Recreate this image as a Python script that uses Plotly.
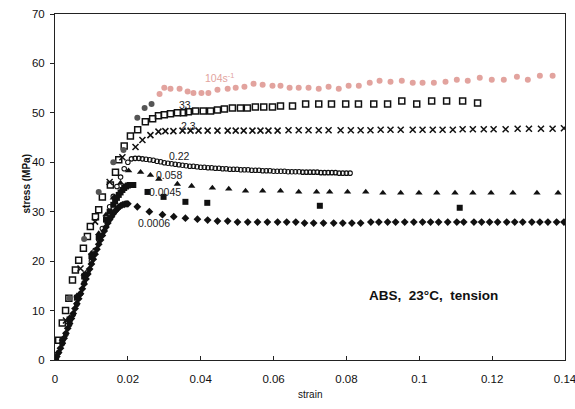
import plotly.graph_objects as go

# ---- strain / stress data, ABS in tension at 23 °C, one series per strain rate ----

# 104 s^-1 (circles)
s104_strain = [0.0040, 0.0080, 0.0120, 0.0160, 0.0188, 0.0226, 0.0246, 0.0265,
               0.0287, 0.0300, 0.0317, 0.0342, 0.0364, 0.0380, 0.0402, 0.0421,
               0.0446, 0.0474, 0.0496, 0.0520, 0.0545, 0.0570, 0.0597, 0.0619,
               0.0644, 0.0669, 0.0696, 0.0724, 0.0751, 0.0779, 0.0806, 0.0834,
               0.0864, 0.0891, 0.0921, 0.0952, 0.0982, 0.1009, 0.1040, 0.1072,
               0.1103, 0.1133, 0.1166, 0.1199, 0.1232, 0.1268, 0.1298, 0.1331, 0.1366]
s104_stress = [12.5, 24.5, 34.0, 40.0, 42.5, 49.0, 51.0, 51.8,
               53.8, 55.1, 54.9, 54.9, 54.3, 54.0, 54.0, 54.0,
               54.7, 54.9, 55.1, 55.3, 55.9, 55.7, 55.5, 55.5,
               55.1, 55.1, 55.1, 54.9, 55.3, 54.9, 55.5, 55.5,
               56.1, 56.5, 56.3, 56.5, 56.1, 56.1, 56.1, 56.3,
               56.7, 56.5, 57.1, 56.7, 56.7, 57.3, 56.7, 57.5, 57.5]
s104_dark_points = 8  # early points print dark

# 33 s^-1 (open squares)
s33_strain = [0.0001, 0.0010, 0.0020, 0.0029, 0.0038, 0.0048, 0.0056, 0.0065,
              0.0078, 0.0089, 0.0097, 0.0111, 0.0120, 0.0130, 0.0152, 0.0166,
              0.0175, 0.0190, 0.0207, 0.0227, 0.0248, 0.0268, 0.0284, 0.0300,
              0.0317, 0.0336, 0.0353, 0.0366, 0.0386, 0.0407, 0.0427, 0.0446,
              0.0465, 0.0487, 0.0509, 0.0528, 0.0550, 0.0573, 0.0597, 0.0619,
              0.0652, 0.0688, 0.0724, 0.0759, 0.0798, 0.0833, 0.0875, 0.0913,
              0.0952, 0.0993, 0.1034, 0.1075, 0.1119, 0.1160]
s33_stress = [0.6, 4.0, 7.5, 10.0, 12.5, 16.2, 18.2, 20.2,
              22.6, 25.0, 27.0, 29.0, 30.4, 33.0, 35.4, 38.0,
              40.5, 43.3, 45.3, 46.6, 48.2, 48.8, 49.4, 49.6,
              49.8, 50.0, 50.0, 50.2, 50.4, 50.4, 50.4, 50.6,
              50.8, 51.0, 51.0, 51.0, 51.2, 51.2, 51.2, 51.4,
              51.4, 51.8, 51.8, 51.8, 51.8, 51.8, 51.8, 51.8,
              52.4, 51.8, 52.4, 52.4, 52.4, 52.0]

# 2.3 s^-1 (crosses)
s2_3_strain = [0.0030, 0.0070, 0.0110, 0.0150, 0.0185, 0.0221, 0.0240, 0.0262,
               0.0284, 0.0303, 0.0325, 0.0350, 0.0372, 0.0394, 0.0419, 0.0446,
               0.0474, 0.0496, 0.0518, 0.0542, 0.0564, 0.0586, 0.0611, 0.0641,
               0.0669, 0.0696, 0.0724, 0.0751, 0.0784, 0.0812, 0.0839, 0.0866,
               0.0894, 0.0921, 0.0949, 0.0982, 0.1009, 0.1037, 0.1064, 0.1092,
               0.1119, 0.1147, 0.1177, 0.1204, 0.1237, 0.1270, 0.1301, 0.1334,
               0.1366, 0.1397]
s2_3_stress = [8.0, 18.5, 28.0, 36.0, 41.0, 43.1, 44.5, 45.5,
               46.2, 46.3, 46.3, 46.4, 46.4, 46.4, 46.4, 46.4,
               46.4, 46.4, 46.4, 46.4, 46.4, 46.4, 46.4, 46.5,
               46.5, 46.5, 46.5, 46.5, 46.5, 46.5, 46.5, 46.5,
               46.6, 46.6, 46.6, 46.6, 46.6, 46.6, 46.6, 46.6,
               46.7, 46.7, 46.7, 46.7, 46.7, 46.8, 46.8, 46.8,
               46.8, 46.9]

# 0.22 s^-1 (small open circles)
s0_22_strain = [0.000, 0.001, 0.002, 0.003, 0.004, 0.005, 0.006, 0.007, 0.008, 0.009,
                0.010, 0.011, 0.012, 0.013, 0.014, 0.015, 0.016, 0.017, 0.018, 0.019,
                0.020, 0.021, 0.022, 0.023, 0.024, 0.025, 0.026, 0.027, 0.028, 0.029,
                0.030, 0.031, 0.032, 0.033, 0.034, 0.035, 0.036, 0.037, 0.038, 0.039,
                0.040, 0.041, 0.042, 0.043, 0.044, 0.045, 0.046, 0.047, 0.048, 0.049,
                0.050, 0.051, 0.052, 0.053, 0.054, 0.055, 0.056, 0.057, 0.058, 0.059,
                0.060, 0.061, 0.062, 0.063, 0.064, 0.065, 0.066, 0.067, 0.068, 0.069,
                0.070, 0.071, 0.072, 0.073, 0.074, 0.075, 0.076, 0.077, 0.078, 0.079,
                0.080, 0.081]
s0_22_stress = [0.0, 1.5, 3.3, 5.2, 7.2, 9.2, 11.3, 13.4, 15.6, 17.8,
                20.0, 22.2, 24.4, 26.6, 28.8, 31.0, 33.1, 35.1, 37.0, 38.7,
                40.0, 40.7, 40.8, 40.8, 40.7, 40.6, 40.5, 40.4, 40.2, 40.1,
                39.9, 39.8, 39.7, 39.6, 39.5, 39.4, 39.3, 39.2, 39.2, 39.1,
                39.0, 39.0, 38.9, 38.9, 38.8, 38.8, 38.7, 38.7, 38.6, 38.6,
                38.6, 38.5, 38.5, 38.5, 38.4, 38.4, 38.4, 38.3, 38.3, 38.3,
                38.2, 38.2, 38.2, 38.2, 38.1, 38.1, 38.1, 38.1, 38.0, 38.0,
                38.0, 38.0, 38.0, 37.9, 37.9, 37.9, 37.9, 37.9, 37.8, 37.8,
                37.8, 37.8]

# 0.058 s^-1 (filled triangles)
s0_058_strain = [0.002, 0.004, 0.006, 0.008, 0.010, 0.012, 0.014, 0.016, 0.018, 0.0202,
                 0.0235, 0.0262, 0.0285, 0.0336, 0.0375, 0.0432, 0.0477, 0.0523, 0.0570,
                 0.0619, 0.0669, 0.0718, 0.0754, 0.0803, 0.0853, 0.0900, 0.0949, 0.0999,
                 0.1048, 0.1098, 0.1147, 0.1197, 0.1257, 0.1323, 0.1381]
s0_058_stress = [4.2, 8.6, 13.0, 17.4, 21.6, 25.6, 29.4, 32.8, 35.8, 38.3,
                 38.0, 37.4, 36.6, 35.6, 35.2, 34.8, 34.6, 34.2, 34.2,
                 34.2, 34.0, 34.0, 34.0, 34.0, 34.0, 33.8, 33.8, 33.8,
                 33.8, 33.8, 33.8, 33.8, 33.8, 33.8, 33.8]

# 0.0045 s^-1 (filled squares)
s0_0045_strain = [0.002, 0.004, 0.006, 0.008, 0.010, 0.012, 0.014, 0.015,
                  0.016, 0.0165, 0.017, 0.0175, 0.018, 0.0185, 0.019, 0.0195,
                  0.020, 0.0205, 0.021, 0.0215,
                  0.0254, 0.0298, 0.0358, 0.0418, 0.0727, 0.1111]
s0_0045_stress = [3.8, 8.2, 12.6, 16.9, 21.0, 24.9, 28.4, 30.0,
                  31.4, 32.1, 32.8, 33.4, 33.9, 34.4, 34.8, 35.1,
                  35.3, 35.4, 35.4, 35.4,
                  34.0, 33.0, 32.0, 31.8, 31.2, 30.8]

# 0.0006 s^-1 (filled diamonds)
s0_0006_strain = [0.0000, 0.0005, 0.0010, 0.0015, 0.0020, 0.0025, 0.0030, 0.0035,
                  0.0040, 0.0045, 0.0050, 0.0055, 0.0060, 0.0065, 0.0070, 0.0075,
                  0.0080, 0.0085, 0.0090, 0.0095, 0.0100, 0.0105, 0.0110, 0.0115,
                  0.0120, 0.0125, 0.0130, 0.0135, 0.0140, 0.0145, 0.0150, 0.0155,
                  0.0160, 0.0165, 0.0170, 0.0175, 0.0180, 0.0185, 0.0190, 0.0195,
                  0.0200, 0.0226, 0.0259, 0.0295, 0.0326, 0.0358, 0.0391, 0.0419,
                  0.0446, 0.0474, 0.0501, 0.0529, 0.0556, 0.0583, 0.0611, 0.0636,
                  0.0661, 0.0685, 0.0710, 0.0737, 0.0765, 0.0790, 0.0815, 0.0839,
                  0.0867, 0.0889, 0.0913, 0.0935, 0.0960, 0.0985, 0.1009, 0.1031,
                  0.1053, 0.1078, 0.1103, 0.1122, 0.1150, 0.1171, 0.1193, 0.1215,
                  0.1240, 0.1262, 0.1284, 0.1309, 0.1331, 0.1353, 0.1377, 0.1397]
s0_0006_stress = [0.0, 0.7, 1.5, 2.4, 3.4, 4.4, 5.4, 6.4,
                  7.4, 8.4, 9.4, 10.4, 11.4, 12.4, 13.4, 14.4,
                  15.4, 16.4, 17.4, 18.4, 19.4, 20.4, 21.4, 22.4,
                  23.4, 24.3, 25.2, 26.1, 26.9, 27.7, 28.4, 29.0,
                  29.6, 30.1, 30.5, 30.9, 31.2, 31.4, 31.5, 31.6,
                  31.6, 31.0, 30.0, 29.4, 29.0, 28.7, 28.5, 28.3,
                  28.1, 28.1, 27.9, 27.9, 27.9, 27.9, 27.9, 27.9,
                  27.9, 27.7, 27.7, 27.7, 27.7, 27.7, 27.7, 27.7,
                  27.9, 27.9, 27.9, 27.9, 27.9, 27.9, 27.9, 27.9,
                  27.9, 27.9, 27.9, 27.9, 27.9, 27.9, 27.9, 27.9,
                  27.9, 27.9, 27.9, 27.9, 27.9, 27.9, 27.9, 27.9]

x_ticks = [0, 0.02, 0.04, 0.06, 0.08, 0.1, 0.12, 0.14]
x_tick_text = ["0", "0.02", "0.04", "0.06", "0.08", "0.1", "0.12", "0.14"]
y_ticks = [0, 10, 20, 30, 40, 50, 60, 70]

# rate labels placed beside their curves: (text, strain, stress)
rate_labels = [("33", 0.0356, 51.6), ("2.3", 0.0367, 47.4), ("0.22", 0.0342, 41.3),
               ("0.058", 0.0312, 37.4), ("0.0045", 0.0303, 34.0), ("0.0006", 0.0271, 27.7)]

PINK = "#e2a39e"
FONT = "Liberation Sans, Arial, sans-serif"

fig = go.Figure()

fig.add_trace(go.Scatter(
    x=s0_0006_strain, y=s0_0006_stress, mode="markers",
    marker=dict(symbol="diamond", size=6, color="#111"), name="0.0006"))
fig.add_trace(go.Scatter(
    x=s0_0045_strain, y=s0_0045_stress, mode="markers",
    marker=dict(symbol="square", size=6, color="#111"), name="0.0045"))
fig.add_trace(go.Scatter(
    x=s0_058_strain, y=s0_058_stress, mode="markers",
    marker=dict(symbol="triangle-up", size=6.5, color="#111"), name="0.058"))
fig.add_trace(go.Scatter(
    x=s0_22_strain, y=s0_22_stress, mode="markers",
    marker=dict(symbol="circle-open", size=4.5, color="#111", line=dict(width=1.1)),
    name="0.22"))
fig.add_trace(go.Scatter(
    x=s2_3_strain, y=s2_3_stress, mode="markers",
    marker=dict(symbol="x-thin", size=6, color="#111", line=dict(width=1.5, color="#111")),
    name="2.3"))
fig.add_trace(go.Scatter(
    x=s33_strain, y=s33_stress, mode="markers",
    marker=dict(symbol="square-open", size=6, color="#111", line=dict(width=1.5)),
    name="33"))
s104_colors = ["#555555"] * s104_dark_points + [PINK] * (len(s104_strain) - s104_dark_points)
fig.add_trace(go.Scatter(
    x=s104_strain, y=s104_stress, mode="markers",
    marker=dict(symbol="circle", size=6, color=s104_colors), name="104"))

annotations = []
for text, sx, sy in rate_labels:
    annotations.append(dict(x=sx, y=sy, xref="x", yref="y", text=text, showarrow=False,
                            font=dict(family=FONT, size=10.5, color="#222")))
annotations.append(dict(x=0.0452, y=57.1, xref="x", yref="y", text="104s<sup>-1</sup>",
                        showarrow=False, font=dict(family=FONT, size=10.5, color=PINK)))
annotations.append(dict(x=0.104, y=13.0, xref="x", yref="y", text="<b>ABS,  23°C,  tension</b>",
                        showarrow=False, font=dict(family=FONT, size=13.5, color="#111")))
annotations.append(dict(x=18, y=184, xref="paper", yref="paper", text="<b>stress (MPa)</b>",
                        showarrow=False, textangle=-90,
                        font=dict(family=FONT, size=10, color="#111")))
annotations.append(dict(x=310, y=402, xref="paper", yref="paper", text="strain",
                        showarrow=False, font=dict(family=FONT, size=10, color="#111")))

# axis titles are placed in pixels: convert to paper fractions
W, H = 575, 409
ML, MR, MT, MB = 55, 10, 14, 49
for a in annotations[-2:]:
    a["x"] = (a["x"] - ML) / (W - ML - MR)
    a["y"] = (H - MB - a["y"]) / (H - MT - MB)

fig.update_layout(
    width=W, height=H,
    margin=dict(l=ML, r=MR, t=MT, b=MB, autoexpand=False),
    paper_bgcolor="white", plot_bgcolor="white",
    showlegend=False,
    annotations=annotations,
    font=dict(family=FONT, size=11, color="#111"),
)
fig.update_xaxes(
    range=[0, 0.14 + 1e-7], tickvals=x_ticks, ticktext=x_tick_text,
    showgrid=False, zeroline=False, showline=True, linecolor="#222", linewidth=1,
    mirror=True, ticks="inside", ticklen=4, tickcolor="#222",
    tickfont=dict(family=FONT, size=11.5, color="#111"), ticklabelstandoff=8,
    ticklabeloverflow="allow",
)
fig.update_yaxes(
    range=[0, 70 + 1e-5], tickvals=y_ticks,
    showgrid=False, zeroline=False, showline=True, linecolor="#222", linewidth=1,
    mirror=True, ticks="outside", ticklen=4, tickcolor="#222",
    tickfont=dict(family=FONT, size=11.5, color="#111"), ticklabelstandoff=3,
    ticklabeloverflow="allow",
)

fig.write_html("out.html")
